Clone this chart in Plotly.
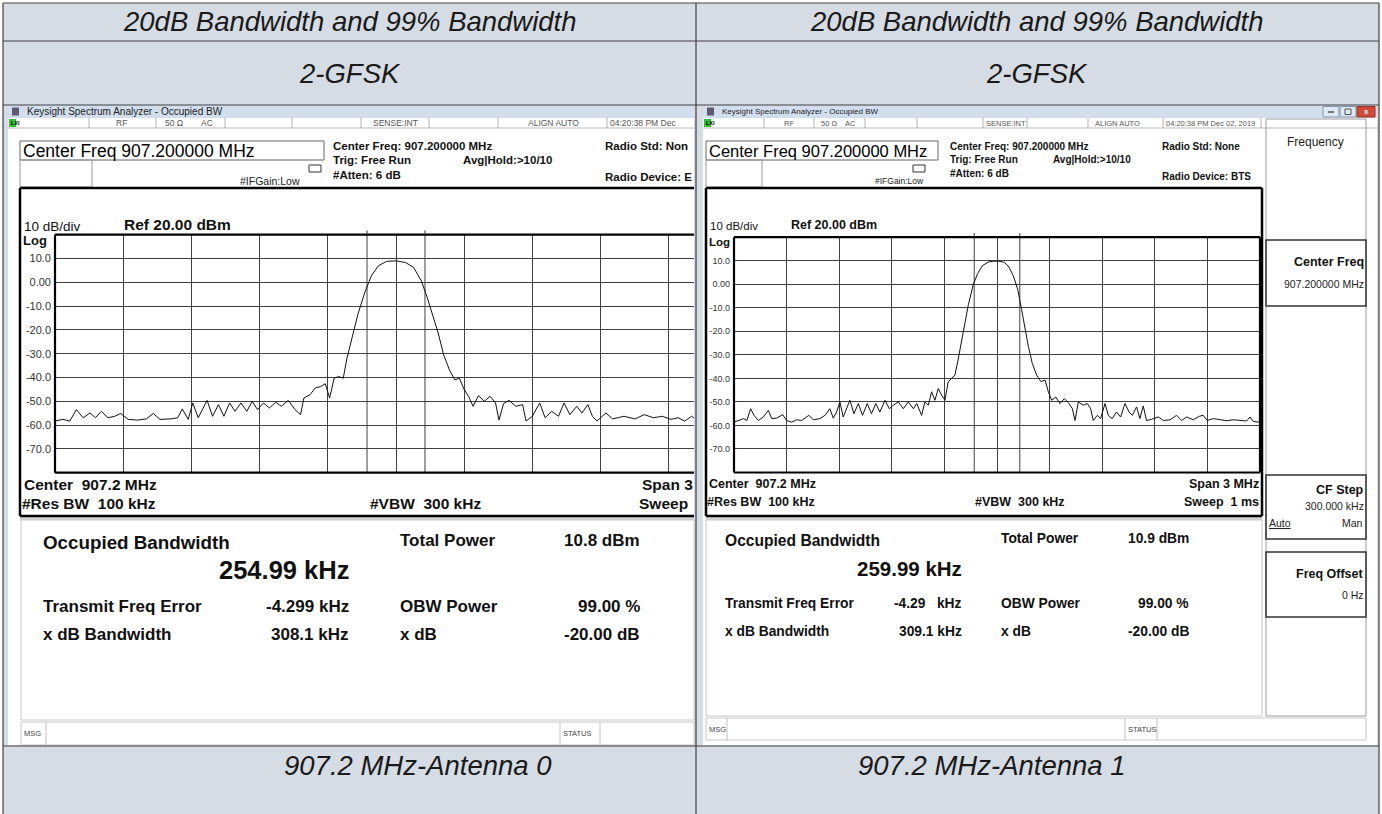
import plotly.graph_objects as go

W, H = 1382, 814
FONT = "Liberation Sans, Arial, Helvetica, sans-serif"

# ---------------- data ----------------
# frequency offset from 907.2 MHz centre (kHz) and level (dBm)
ant0_freq_khz = [-1500, -1465, -1435, -1406, -1376, -1346, -1322, -1296, -1267, -1237,
                 -1211, -1178, -1138, -1098, -1068, -1038, -990, -960, -940, -914,
                 -894, -870, -831, -807, -781, -757, -732, -708, -682, -656,
                 -633, -609, -583, -557, -529, -504, -474, -444, -420, -405,
                 -378, -355, -331, -311, -292, -272, -252, -232, -216, -192,
                 -167, -137, -108, -78, -42, 2, 42, 77, 111, 137,
                 160, 184, 210, 235, 259, 279, 299, 319, 339, 363,
                 388, 414, 438, 453, 473, 497, 527, 557, 572, 600,
                 632, 656, 685, 715, 739, 765, 795, 818, 844, 864,
                 884, 923, 953, 1003, 1052, 1092, 1132, 1172, 1210, 1241,
                 1270, 1300, 1330]
ant0_level_dbm = [-58.3, -57.6, -58.3, -53.5, -56.9, -54.9, -56.9, -54.2, -56.9, -56.3,
                  -55.1, -57.6, -57.9, -57.4, -55.1, -57.6, -57.4, -56.9, -53.2, -57.6,
                  -50.7, -56.9, -49.6, -56.3, -51.4, -56.3, -50.7, -54.2, -50.7, -54.2,
                  -50.0, -53.5, -50.7, -52.8, -50.4, -52.1, -49.6, -53.5, -55.6, -48.6,
                  -47.2, -44.4, -43.8, -42.6, -48.6, -40.3, -39.6, -40.3, -32.0, -22.9,
                  -13.2, -4.2, 2.8, 6.9, 8.8, 9.0, 8.3, 6.3, 0.7, -6.3,
                  -13.2, -20.8, -30.6, -36.8, -41.0, -40.3, -44.9, -47.9, -52.1, -47.6,
                  -50.0, -47.9, -50.7, -57.9, -51.0, -49.6, -52.1, -51.4, -58.3, -56.3,
                  -50.7, -56.9, -54.2, -56.3, -50.7, -55.6, -52.1, -54.9, -51.4, -56.3,
                  -58.3, -54.9, -57.4, -56.3, -57.4, -55.6, -56.9, -56.3, -57.6, -56.9,
                  -58.3, -56.3, -58.3]

ant1_freq_khz = [-1500, -1475, -1446, -1427, -1405, -1386, -1361, -1333, -1304, -1285,
                 -1257, -1222, -1200, -1171, -1143, -1114, -1073, -1048, -1010, -981,
                 -953, -934, -915, -896, -877, -839, -816, -791, -767, -740,
                 -716, -691, -668, -639, -614, -591, -563, -534,
                 -506, -477, -458, -430, -411, -392, -373, -354, -335, -316,
                 -297, -278, -259, -240, -224, -207, -186, -163, -135, -110,
                 -83, -49, -21, 11, 42, 68, 93, 118, 140, 159,
                 179, 201, 226, 251, 274, 293, 312, 335, 359, 384,
                 411, 430, 445, 464,
                 492, 515, 534, 549, 572, 591, 616, 635, 657, 682,
                 705, 730, 753, 772, 796, 815, 834, 853, 882, 920,
                 949, 987, 1024, 1053, 1081, 1120, 1154, 1176, 1199, 1234,
                 1272, 1310, 1348, 1386, 1424, 1443, 1462, 1490, 1500]
ant1_level_dbm = [-58.6, -57.9, -57.1, -57.9, -52.9, -55.7, -57.9, -56.4, -53.6, -57.1,
                  -56.9, -55.4, -57.9, -58.6, -57.6, -57.9, -55.7, -57.6, -57.1, -55.7,
                  -52.9, -56.9, -54.3, -50.0, -56.4, -49.3, -55.0, -50.7, -55.7, -50.7,
                  -55.0, -50.7, -54.3, -49.3, -52.9, -51.4, -50.0, -52.9,
                  -50.0, -52.9, -50.7, -55.7, -50.0, -51.4, -45.7, -49.3, -44.3, -47.1,
                  -49.3, -41.4, -40.0, -38.6, -32.9, -25.7, -17.1, -8.6, 0.0, 4.6,
                  7.9, 9.5, 9.8, 9.8, 9.3, 7.4, 3.6, -2.1, -10.7, -18.6,
                  -26.4, -33.6, -38.6, -41.4, -40.7, -45.7, -49.3, -47.9, -50.7, -48.6,
                  -50.7, -52.9, -57.9, -50.0,
                  -51.4, -50.7, -52.9, -57.9, -55.7, -57.1, -50.7, -55.7, -57.1, -54.3,
                  -56.4, -50.7, -54.3, -55.7, -52.1, -57.1, -51.7, -57.9, -57.4, -56.4,
                  -57.9, -57.6, -55.7, -57.9, -56.4, -57.6, -56.1, -55.7, -57.9, -57.1,
                  -57.4, -58.0, -57.6, -57.9, -58.1, -56.4, -58.3, -58.6, -58.4]

y_tick_vals = [10, 0, -10, -20, -30, -40, -50, -60, -70]
y_tick_text = ["10.0", "0.00", "-10.0", "-20.0", "-30.0", "-40.0", "-50.0", "-60.0", "-70.0"]

header_text = "20dB Bandwidth and 99% Bandwidth"
mod_text = "2-GFSK"
footer_texts = ["907.2 MHz-Antenna 0", "907.2 MHz-Antenna 1"]

obw_khz = [254.99, 259.99]
total_power = ["10.8 dBm", "10.9 dBm"]
freq_err = ["-4.299 kHz", "-4.29\u00a0\u00a0 kHz"]
xdb_bw = ["308.1 kHz", "309.1 kHz"]

# ---------------- helpers ----------------
def X(p):
    return p / W

def Y(p):
    return 1 - p / H

shapes = []
ann = []

def rect(x0, y0, x1, y1, fill=None, line=None, lw=1, layer="below"):
    shapes.append(dict(type="rect", xref="paper", yref="paper",
                       x0=X(x0), x1=X(x1), y0=Y(y1), y1=Y(y0),
                       fillcolor=fill if fill else "rgba(0,0,0,0)",
                       line=dict(color=line if line else "rgba(0,0,0,0)", width=lw if line else 0),
                       layer=layer))

def seg(x0, y0, x1, y1, color, lw=1, layer="above"):
    shapes.append(dict(type="line", xref="paper", yref="paper",
                       x0=X(x0), x1=X(x1), y0=Y(y0), y1=Y(y1),
                       line=dict(color=color, width=lw), layer=layer))

def txt(x, y, s, size, color="#111", anchor="left", bold=False, italic=False, family=FONT):
    if bold:
        s = "<b>" + s + "</b>"
    if italic:
        s = "<i>" + s + "</i>"
    ann.append(dict(xref="paper", yref="paper", x=X(x), y=Y(y), text=s, showarrow=False,
                    xanchor=anchor, yanchor="middle", borderpad=0,
                    font=dict(family=family, size=size, color=color)))

# ---------------- table ----------------
TBG = "#d6dce4"
TL = "#404040"
rect(3, 3, 1379, 814, fill=TBG)
for yy in [3, 41, 105, 746]:
    seg(3, yy, 1379, yy, TL, 1.2)
for xx in [3, 696, 1379]:
    seg(xx, 3, xx, 814, TL, 1.2)
for cx in [350, 1037]:
    txt(cx, 22, header_text, 27.5, color="#1a1a1a", anchor="center", italic=True)
    txt(cx, 73, mod_text, 27.5, color="#1a1a1a", anchor="center", italic=True)
txt(418, 765, footer_texts[0], 27.5, color="#1a1a1a", anchor="center", italic=True)
txt(992, 765, footer_texts[1], 27.5, color="#1a1a1a", anchor="center", italic=True)

# ---------------- screenshot drawing ----------------
def screenshot(L, cfg):
    x0, x1 = cfg["x0"], cfg["x1"]
    # window bg
    rect(x0, 105, x1, 745, fill="white")
    # title bar
    rect(x0, 105, x1, 118, fill="#d2deed")
    rect(x0 + 4, 107.5, x0 + 11, 115.5, fill="#5b5b73")
    txt(x0 + 18, 111.5, "Keysight Spectrum Analyzer - Occupied BW", cfg["title_fs"], color="#222")
    # status row
    seg(x0, 128, x1, 128, "#b8b8b8", 1)
    rect(x0 + 1, 119, x0 + 8, 127, fill="#2ec22e")
    txt(x0 + 1.5, 123, "LXI", 5.5, color="#000", bold=True)
    for sx in cfg["sep"]:
        seg(sx, 118, sx, 128, "#b0b0b0", 1)
    for (tx, tt, anc) in cfg["status"]:
        txt(tx, 123, tt, cfg["st_fs"], color="#555", anchor=anc)
    # center freq box
    bx = cfg["cfbox"]
    rect(bx[0], 141, bx[1], 160, line="#666", lw=1, layer="above")
    txt(bx[0] + 1.5, 150.5, "Center Freq 907.200000 MHz", cfg["cf_fs"], color="#000")
    rect(bx[0], 160, cfg["smallbox"], 187, line="#999", lw=1, layer="above")
    txt(cfg["ifg"], 181, "#IFGain:Low", cfg["ifg_fs"], color="#222")
    ix = cfg["icon"]
    rect(ix, 165, ix + 12, 172, line="#333", lw=1, layer="above")
    for (tx, ty, tt) in cfg["info"]:
        txt(tx, ty, tt, cfg["info_fs"], color="#111", bold=True)
    # graph panel
    gx0, gx1 = cfg["gp"]
    rect(gx0, 188, gx1, 516, fill="white")
    seg(gx0, 188, gx1, 188, "#000", 2.5)
    seg(gx0, 516, gx1, 516, "#000", 2.5)
    seg(gx0, 188, gx0, 516, "#000", 2.5)
    if cfg["gp_right"]:
        seg(gx1, 188, gx1, 516, "#000", 2.5)
    rect(gx0, 517, gx1, 520, fill="#d4d4d4")
    txt(gx0 + 3, 226, "10 dB/div", cfg["div_fs"], color="#111")
    txt(cfg["refx"], 224.5, "Ref 20.00 dBm", cfg["ref_fs"], color="#111", bold=True)
    txt(gx0 + 2, cfg["logy"], "Log", cfg["log_fs"], color="#111", bold=True)
    for (tx, ty, tt, anc) in cfg["bottom"]:
        txt(tx, ty, tt, cfg["bot_fs"], color="#111", anchor=anc, bold=True)
    # results panel
    rx0, rx1, ry1 = cfg["res"]
    rect(rx0, 520, rx1, ry1, fill="white", line="#c8c8c8", lw=1)
    c = cfg["rescol"]
    fs = cfg["res_fs"]
    yy = cfg["res_y"]
    txt(c[0], yy[0], "Occupied Bandwidth", fs + 1.8, bold=True)
    txt(c[1], yy[1], "%.2f kHz" % obw_khz[L], cfg["big_fs"], bold=True, anchor="right")
    txt(c[2], yy[0] - 2, "Total Power", fs, bold=True)
    txt(c[3], yy[0] - 2, total_power[L], fs, bold=True, anchor="right")
    txt(c[0], yy[2], "Transmit Freq Error", fs, bold=True)
    txt(c[1], yy[2], freq_err[L], fs, bold=True, anchor="right")
    txt(c[2], yy[2], "OBW Power", fs, bold=True)
    txt(c[3], yy[2], "99.00 %", fs, bold=True, anchor="right")
    txt(c[0], yy[3], "x dB Bandwidth", fs, bold=True)
    txt(c[1], yy[3], xdb_bw[L], fs, bold=True, anchor="right")
    txt(c[2], yy[3], "x dB", fs, bold=True)
    txt(c[3], yy[3], "-20.00 dB", fs, bold=True, anchor="right")
    # msg bar
    m = cfg["msg"]
    rect(m[0], m[2], m[1], m[3], fill="white", line="#c8c8c8", lw=1)
    txt(m[0] + 2, (m[2] + m[3]) / 2, "MSG", 7.5, color="#444")
    seg(m[4], m[2], m[4], m[3], "#c0c0c0", 1)
    seg(m[5], m[2], m[5], m[3], "#c0c0c0", 1)
    seg(m[6], m[2], m[6], m[3], "#c0c0c0", 1)
    txt(m[5] + 1.5, (m[2] + m[3]) / 2, "STATUS", 7.5, color="#444")

left_cfg = dict(
    x0=8, x1=694, title_fs=10,
    sep=[89, 156, 225, 292, 361, 429, 498, 607],
    status=[(115, "RF", "left"), (164, "50 \u03a9", "left"), (200, "AC", "left"),
            (395, "SENSE:INT", "center"), (553, "ALIGN AUTO", "center"), (609, "04:20:38 PM Dec", "left")],
    st_fs=8.5, cfbox=(20, 324), smallbox=92, cf_fs=17.5, ifg=239, ifg_fs=10.5, icon=309,
    info=[(332, 146, "Center Freq: 907.200000 MHz"), (332, 160, "Trig: Free Run"),
          (462, 160, "Avg|Hold:>10/10"), (332, 175, "#Atten: 6 dB"),
          (604, 146, "Radio Std: Non"), (604, 177, "Radio Device: E")],
    info_fs=11.5, gp=(20, 694), gp_right=False, div_fs=13.5, refx=123, ref_fs=15.5,
    logy=240, log_fs=13,
    bottom=[(23, 485, "Center\u00a0 907.2 MHz", "left"), (21, 503, "#Res BW\u00a0 100 kHz", "left"),
            (369, 503, "#VBW\u00a0 300 kHz", "left"), (694, 485, "Span 3", "right"),
            (689, 503, "Sweep", "right")],
    bot_fs=15.5, res=(21, 694, 720), rescol=(42, 350, 399, 641), res_fs=17,
    res_y=(542, 570, 606, 634), big_fs=25.5,
    msg=(21, 694, 722, 745, 46, 560, 600),
)
right_cfg = dict(
    x0=703, x1=1377, title_fs=8,
    sep=[764, 814, 865, 917, 983, 1027, 1088, 1163, 1261],
    status=[(783, "RF", "left"), (820, "50 \u03a9", "left"), (844, "AC", "left"),
            (1006, "SENSE:INT", "center"), (1117, "ALIGN AUTO", "center"),
            (1165, "04:20:38 PM Dec 02, 2019", "left")],
    st_fs=7.5, cfbox=(706, 938), smallbox=762, cf_fs=16.5, ifg=874, ifg_fs=8.5, icon=913,
    info=[(949, 146, "Center Freq: 907.200000 MHz"), (949, 160, "Trig: Free Run"),
          (1052, 160, "Avg|Hold:>10/10"), (949, 174, "#Atten: 6 dB"),
          (1161, 146, "Radio Std: None"), (1161, 177, "Radio Device: BTS")],
    info_fs=10, gp=(706, 1262), gp_right=True, div_fs=11.5, refx=790, ref_fs=12.5,
    logy=242, log_fs=11.5,
    bottom=[(708, 484, "Center\u00a0 907.2 MHz", "left"), (706, 502, "#Res BW\u00a0 100 kHz", "left"),
            (974, 502, "#VBW\u00a0 300 kHz", "left"), (1260, 484, "Span 3 MHz", "right"),
            (1260, 502, "Sweep\u00a0 1 ms", "right")],
    bot_fs=12.5, res=(706, 1262, 716), rescol=(724, 963, 1000, 1190), res_fs=13.8,
    res_y=(540, 568, 603, 631), big_fs=20.5,
    msg=(706, 1366, 718, 740, 727, 1125, 1157),
)
screenshot(0, left_cfg)
screenshot(1, right_cfg)

# right title-bar buttons
rect(1323, 106.5, 1339, 117, fill="#dfe7f2", line="#8196b3", lw=1, layer="above")
rect(1340, 106.5, 1356, 117, fill="#dfe7f2", line="#8196b3", lw=1, layer="above")
rect(1357, 106.5, 1375, 117, fill="#d2483a", line="#9a3024", lw=1, layer="above")
seg(1328, 112, 1334, 112, "#555", 1.5)
rect(1345, 109, 1351, 114.5, line="#555", lw=1, layer="above")
txt(1366, 111.5, "x", 8, color="white", anchor="center", bold=True)

# right softkey panel
rect(1266, 119, 1366, 716, fill="white", line="#9a9a9a", lw=1)
txt(1315, 142, "Frequency", 12, color="#222", anchor="center")
rect(1266, 240, 1366, 306, line="#333", lw=1.5, layer="above")
txt(1365, 262, "Center Freq", 12.5, anchor="right", bold=True)
txt(1365, 284, "907.200000 MHz", 10.5, anchor="right", color="#222")
rect(1266, 475, 1366, 539, line="#333", lw=1.5, layer="above")
txt(1365, 490, "CF Step", 12.5, anchor="right", bold=True)
txt(1365, 506, "300.000 kHz", 10.5, anchor="right", color="#222")
txt(1268, 523, "<u>Auto</u>", 10.5, color="#222")
txt(1364, 523, "Man", 10.5, anchor="right", color="#222")
rect(1266, 552, 1366, 617, line="#333", lw=1.5, layer="above")
txt(1365, 574, "Freq Offset", 12.5, anchor="right", bold=True)
txt(1365, 595, "0 Hz", 10.5, anchor="right", color="#222")

# ---------------- spectrum plots ----------------
GRID = "#404040"
fig = go.Figure()
fig.add_trace(go.Scatter(x=ant0_freq_khz, y=ant0_level_dbm, mode="lines",
                         line=dict(color="#111", width=1), xaxis="x", yaxis="y",
                         hoverinfo="skip", showlegend=False))
fig.add_trace(go.Scatter(x=ant1_freq_khz, y=ant1_level_dbm, mode="lines",
                         line=dict(color="#111", width=1), xaxis="x2", yaxis="y2",
                         hoverinfo="skip", showlegend=False))

def xax(dom, rng, anchor):
    return dict(domain=dom, range=rng, tick0=-1500, dtick=300, showgrid=True, gridcolor=GRID,
                gridwidth=1, zeroline=False, showticklabels=False, ticks="", showline=False,
                anchor=anchor, fixedrange=True)

def yax(dom, anchor, fs):
    return dict(domain=dom, range=[-80, 20], tickvals=y_tick_vals, ticktext=y_tick_text,
                showgrid=True, gridcolor=GRID, gridwidth=1, zeroline=False, ticks="",
                showline=False, anchor=anchor, ticklabelstandoff=3,
                tickfont=dict(family=FONT, size=fs, color="#333"), fixedrange=True)

# left plot: 68.2 px per 300 kHz division, cropped at the cell edge
left_right_khz = -1500 + (694 - 55) * 300 / 68.2
fig.update_layout(
    xaxis=xax([X(55), X(694)], [-1500, left_right_khz], "y"),
    yaxis=yax([Y(472.7), Y(234.7)], "x", 11),
    xaxis2=xax([X(734), X(1260)], [-1500, 1500], "y2"),
    yaxis2=yax([Y(472.5), Y(237.2)], "x2", 9),
)

# plot frames and OBW markers
for xr, yr, obw, right in [("x", "y", obw_khz[0], False), ("x2", "y2", obw_khz[1], True)]:
    xd, yd = xr + " domain", yr + " domain"
    edges = [(0, 0, 1, 0), (0, 1, 1, 1), (0, 0, 0, 1)]
    if right:
        edges.append((1, 0, 1, 1))
    for (a, b, c2, d) in edges:
        shapes.append(dict(type="line", xref=xd, yref=yd, x0=a, y0=b, x1=c2, y1=d,
                           line=dict(color="#000", width=2.2), layer="above"))
    for f in (-obw / 2, obw / 2):
        shapes.append(dict(type="line", xref=xr, yref=yd, x0=f, x1=f, y0=0, y1=1,
                           line=dict(color=GRID, width=1), layer="below"))
        shapes.append(dict(type="line", xref=xr, yref=yd, x0=f, x1=f, y0=1, y1=1.018,
                           line=dict(color="#333", width=1), layer="above"))

fig.update_layout(
    width=W, height=H, margin=dict(l=0, r=0, t=0, b=0),
    paper_bgcolor="white", plot_bgcolor="rgba(0,0,0,0)",
    shapes=shapes, annotations=ann, showlegend=False,
    font=dict(family=FONT),
)
fig.write_html("out.html", config={"displayModeBar": False},
               post_script="document.body.style.margin='0';document.body.style.overflow='hidden';")
